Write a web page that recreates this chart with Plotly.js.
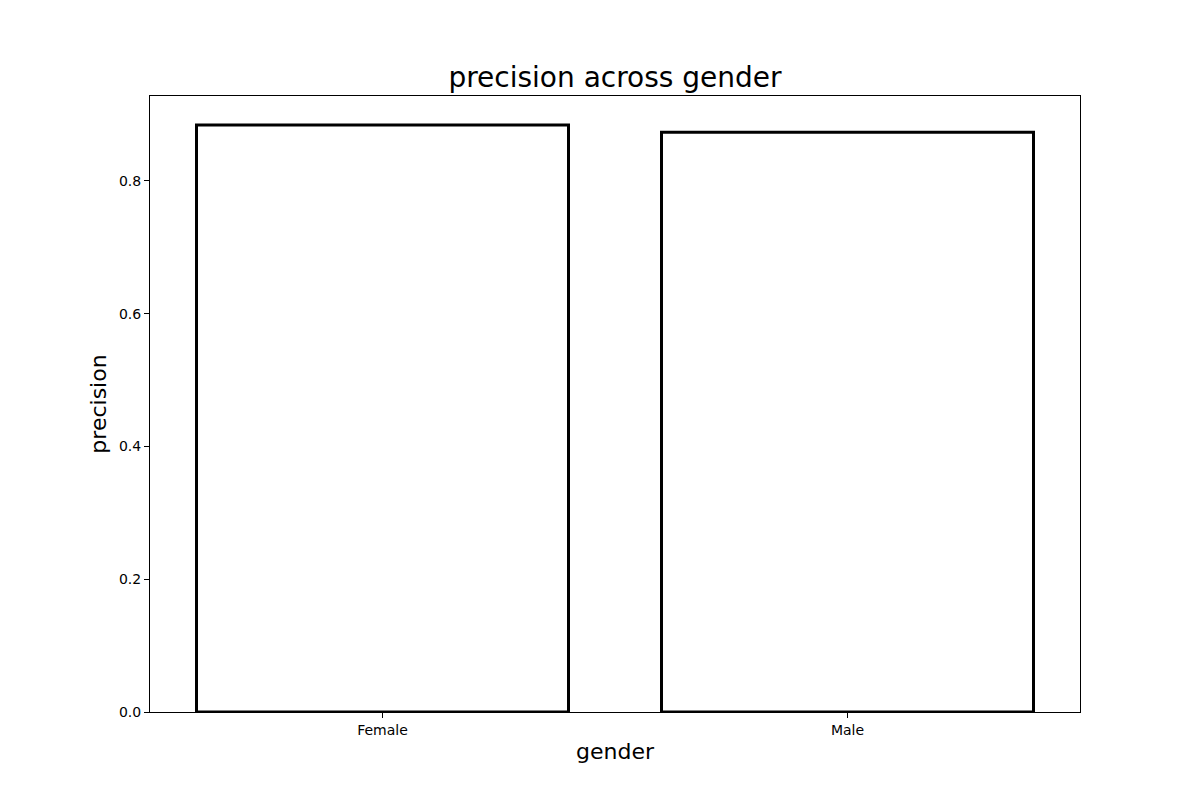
<!DOCTYPE html>
<html>
<head>
<meta charset="utf-8">
<script src="https://cdn.plot.ly/plotly-3.0.1.min.js"></script>
<style>html,body{margin:0;padding:0;background:#fff;}#chart{width:1200px;height:800px;}</style>
</head>
<body>
<div id="chart"></div>
<script>
var categories = ["Female", "Male"];
var precision = [0.8844, 0.8735];
var yTicks = [0.0, 0.2, 0.4, 0.6, 0.8];
var yTickLabels = ["0.0", "0.2", "0.4", "0.6", "0.8"];

var font = "DejaVu Sans, sans-serif";
var trace = {
  type: "bar",
  x: categories,
  y: precision,
  width: 0.8,
  marker: {color: "rgba(255,255,255,0)", line: {color: "#000", width: 3}},
  hoverinfo: "none"
};
var layout = {
  width: 1200, height: 800,
  margin: {l: 150, r: 120, t: 96, b: 88},
  paper_bgcolor: "#fff", plot_bgcolor: "#fff",
  font: {family: font, color: "#000", size: 14},
  showlegend: false,
  title: {text: "precision across gender", font: {family: font, size: 28, color: "#000"}, x: 0.5, xref: "paper", xanchor: "center", y: 1, yref: "paper", yanchor: "bottom", pad: {b: 9}},
  xaxis: {
    type: "category", range: [-0.5, 1.5],
    showline: true, linecolor: "#000", linewidth: 1, mirror: true,
    ticks: "outside", ticklen: 5, tickwidth: 1, tickcolor: "#000",
    showgrid: false, zeroline: false,
    tickfont: {family: font, size: 14, color: "#000"},
    title: {text: "gender", font: {family: font, size: 22, color: "#000"}, standoff: 6}
  },
  yaxis: {
    range: [0, 0.928],
    tickvals: yTicks, ticktext: yTickLabels,
    showline: true, linecolor: "#000", linewidth: 1, mirror: true,
    ticks: "outside", ticklen: 5, tickwidth: 1, tickcolor: "#000",
    showgrid: false, zeroline: false,
    tickfont: {family: font, size: 14, color: "#000"},
    title: {text: "precision", font: {family: font, size: 22, color: "#000"}, standoff: 6}
  }
};
Plotly.newPlot("chart", [trace], layout, {displayModeBar: false, staticPlot: true});
</script>
</body>
</html>
